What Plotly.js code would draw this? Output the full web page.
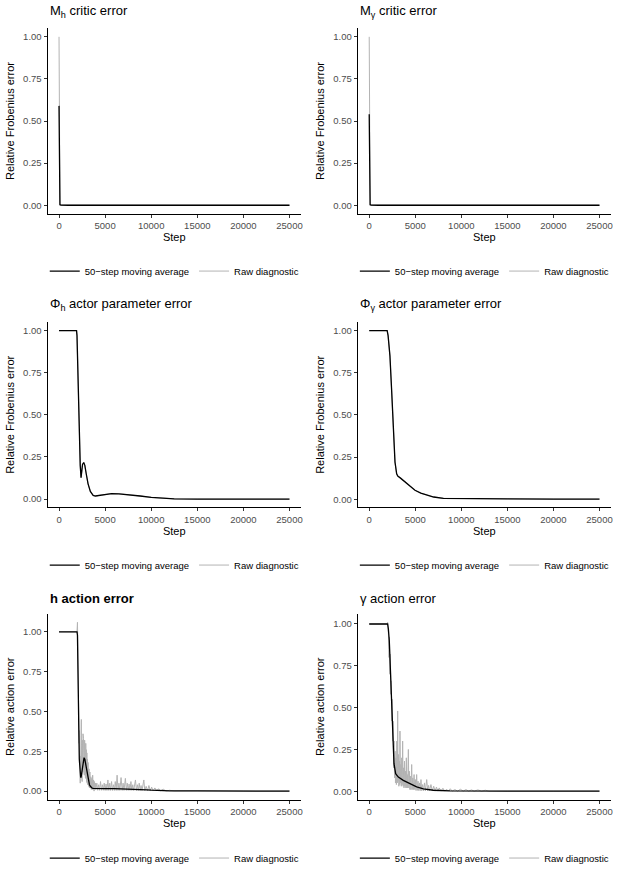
<!DOCTYPE html>
<html><head><meta charset="utf-8">
<script src="https://cdn.plot.ly/plotly-3.0.1.min.js"></script>
<style>html,body{margin:0;padding:0;background:#fff}#chart{width:620px;height:873px}</style>
</head><body><div id="chart"></div>
<script>
// ---------- Data ----------
const stepTicks = [0, 5000, 10000, 15000, 20000, 25000];
const errTicks = [0, 0.25, 0.5, 0.75, 1];
const seriesNames = ["50\u2212step moving average", "Raw diagnostic"];

// M_h critic error
const mhSteps = [0, 25, 50, 75, 100, 150, 200, 1000, 25000];
const mhRaw   = [1.00, 0.004, 0.003, 0.002, 0.002, 0.001, 0.001, 0.000, 0.000];
const mhAvg   = [0.59, 0.30, 0.02, 0.006, 0.003, 0.002, 0.001, 0.000, 0.000];

// M_gamma critic error
const mgSteps = [0, 25, 50, 75, 100, 150, 200, 1000, 25000];
const mgRaw   = [1.00, 0.004, 0.003, 0.002, 0.002, 0.001, 0.001, 0.000, 0.000];
const mgAvg   = [0.54, 0.28, 0.02, 0.006, 0.003, 0.002, 0.001, 0.000, 0.000];

// Phi_h actor parameter error
const phSteps = [0, 1900, 1950, 2000, 2100, 2200, 2300, 2390, 2450, 2550, 2680, 2800, 2950, 3150, 3400, 3700, 3950, 4300, 4800, 5700, 6500, 7500, 8800, 10000, 11300, 12500, 15000, 20000, 25000];
const phAvg   = [1.00, 1.00, 0.97, 0.85, 0.60, 0.38, 0.20, 0.127, 0.16, 0.205, 0.217, 0.20, 0.15, 0.09, 0.045, 0.022, 0.018, 0.021, 0.027, 0.032, 0.031, 0.027, 0.018, 0.010, 0.003, 0.001, 0.000, 0.000, 0.000];
const phRaw   = [1.00, 1.00, 0.97, 0.85, 0.60, 0.38, 0.20, 0.127, 0.16, 0.205, 0.217, 0.20, 0.15, 0.09, 0.045, 0.022, 0.018, 0.021, 0.027, 0.032, 0.031, 0.027, 0.018, 0.010, 0.003, 0.001, 0.000, 0.000, 0.000];

// Phi_gamma actor parameter error
const pgSteps = [0, 1950, 2050, 2150, 2250, 2430, 2610, 2800, 2980, 3100, 3400, 3700, 4200, 4970, 5600, 6240, 7000, 8060, 9000, 10000, 12000, 15000, 20000, 25000];
const pgAvg   = [1.00, 1.00, 0.97, 0.91, 0.85, 0.65, 0.42, 0.22, 0.15, 0.137, 0.125, 0.112, 0.085, 0.053, 0.036, 0.024, 0.013, 0.005, 0.004, 0.004, 0.003, 0.002, 0.001, 0.001];
const pgRaw   = [1.00, 1.00, 0.97, 0.91, 0.85, 0.65, 0.42, 0.22, 0.15, 0.137, 0.125, 0.112, 0.085, 0.053, 0.036, 0.024, 0.013, 0.005, 0.004, 0.004, 0.003, 0.002, 0.001, 0.001];

// h action error
const haAvgSteps = [0, 1900, 1950, 2000, 2050, 2100, 2150, 2200, 2250, 2300, 2350, 2400, 2500, 2600, 2715, 2800, 2900, 3000, 3100, 3200, 3300, 3400, 3500, 3600, 3730, 4000, 5000, 6000, 7000, 8000, 9000, 9500, 10000, 10500, 11000, 12000, 15000, 20000, 25000];
const haAvg      = [1.00, 1.00, 1.00, 0.98, 0.85, 0.55, 0.38, 0.20, 0.14, 0.10, 0.085, 0.09, 0.14, 0.19, 0.21, 0.20, 0.17, 0.13, 0.09, 0.06, 0.04, 0.03, 0.02, 0.018, 0.017, 0.016, 0.015, 0.015, 0.014, 0.012, 0.010, 0.008, 0.006, 0.004, 0.003, 0.001, 0.001, 0.000, 0.000];
const haRawSteps = [0, 1950, 2000, 2030, 2060, 2090, 2120, 2150, 2180, 2210, 2240, 2270, 2300, 2330, 2360, 2390, 2420, 2450, 2480, 2510, 2540, 2570, 2600, 2630, 2660, 2690, 2720, 2750, 2780, 2810, 2840, 2870, 2900, 2930, 2960, 2990, 3020, 3050, 3080, 3110, 3150, 3200, 3250, 3300, 3350, 3400, 3450, 3500, 3550, 3600, 3650, 3700, 3750, 3800, 3850, 3900, 3950,
  4000, 4100, 4200, 4300, 4400, 4500, 4600, 4700, 4800, 4900, 5000, 5100, 5200, 5300, 5400, 5500, 5600, 5700, 5800, 5900, 6000, 6100, 6200, 6300, 6400, 6500, 6600, 6730, 6850, 6950, 7050, 7200, 7300, 7400, 7500, 7600, 7700, 7800, 7900, 8000, 8100, 8290, 8400, 8500, 8600, 8700, 8800, 8900, 9000, 9200, 9300, 9450, 9600, 9750, 9900, 10050, 10200, 10400, 10600, 10800, 11000, 11300, 11600, 12000, 12500, 14000, 15000, 20000, 25000];
const haRaw      = [1.00, 1.00, 1.06, 0.95, 0.70, 0.55, 0.40, 0.52, 0.30, 0.38, 0.12, 0.30, 0.05, 0.22, 0.08, 0.35, 0.45, 0.10, 0.28, 0.06, 0.32, 0.12, 0.36, 0.15, 0.33, 0.12, 0.30, 0.10, 0.32, 0.14, 0.28, 0.08, 0.30, 0.10, 0.26, 0.06, 0.24, 0.05, 0.20, 0.04, 0.18, 0.03, 0.14, 0.02, 0.12, 0.02, 0.09, 0.01, 0.08, 0.01, 0.10, 0.01, 0.07, 0.00, 0.06, 0.01, 0.05,
  0.010, 0.050, 0.005, 0.040, 0.005, 0.060, 0.005, 0.040, 0.005, 0.050, 0.004, 0.045, 0.004, 0.070, 0.004, 0.050, 0.004, 0.060, 0.004, 0.040, 0.004, 0.060, 0.004, 0.100, 0.004, 0.050, 0.004, 0.085, 0.004, 0.050, 0.004, 0.080, 0.004, 0.050, 0.004, 0.045, 0.004, 0.060, 0.004, 0.040, 0.003, 0.070, 0.003, 0.040, 0.003, 0.050, 0.003, 0.035, 0.003, 0.070, 0.003, 0.030, 0.002, 0.035, 0.002, 0.025, 0.002, 0.020, 0.001, 0.015, 0.001, 0.012, 0.001, 0.005, 0.001, 0.002, 0.001, 0.001, 0.001];

// gamma action error
const gaAvgSteps = [0, 1950, 2000, 2080, 2180, 2320, 2430, 2540, 2690, 2870, 3160, 3700, 4430, 5150, 5880, 6970, 8780, 10000, 15000, 20000, 25000];
const gaAvg      = [1.00, 1.00, 1.00, 0.97, 0.90, 0.70, 0.50, 0.30, 0.165, 0.105, 0.085, 0.065, 0.046, 0.026, 0.014, 0.006, 0.002, 0.001, 0.001, 0.001, 0.001];
const gaRawSteps = [0, 1950, 2000, 2050, 2100, 2150, 2200, 2250, 2300, 2350, 2400, 2450, 2500, 2550, 2600, 2650, 2700, 2750, 2800, 2850, 2900, 2950, 3000, 3050, 3090, 3130, 3180, 3220, 3270, 3310, 3340, 3380, 3430, 3480, 3530, 3580, 3630, 3680, 3730, 3780, 3830, 3880, 3930, 3980, 4030, 4080, 4130, 4180, 4250, 4300, 4360, 4420, 4480, 4540, 4610, 4670, 4730, 4800, 4870, 4940, 5010, 5080, 5150, 5220, 5300, 5380, 5460, 5540, 5620, 5700, 5800, 5900, 6000, 6100, 6240, 6350, 6450, 6550, 6700, 6850, 7000, 7150, 7300, 7450, 7600, 7800, 8000, 8200, 8400, 8600, 8800, 9000, 9300, 9600, 9900, 10200, 10500, 10800, 11100, 11400, 11800, 12200, 12600, 13000, 14000, 15000, 20000, 25000];
const gaRaw      = [1.00, 1.00, 1.01, 0.97, 0.93, 0.80, 0.92, 0.70, 0.82, 0.58, 0.66, 0.42, 0.55, 0.30, 0.42, 0.14, 0.30, 0.08, 0.24, 0.05, 0.20, 0.04, 0.30, 0.05, 0.48, 0.06, 0.22, 0.03, 0.18, 0.04, 0.36, 0.05, 0.16, 0.03, 0.20, 0.04, 0.30, 0.03, 0.14, 0.02, 0.18, 0.03, 0.12, 0.02, 0.20, 0.02, 0.10, 0.02, 0.25, 0.02, 0.12, 0.01, 0.09, 0.01, 0.16, 0.01, 0.08, 0.01, 0.10, 0.01, 0.07, 0.005, 0.10, 0.005, 0.06, 0.004, 0.05, 0.004, 0.07, 0.003, 0.04, 0.003, 0.05, 0.002, 0.07, 0.002, 0.035, 0.002, 0.04, 0.002, 0.03, 0.001, 0.025, 0.001, 0.02, 0.001, 0.018, 0.001, 0.012, 0.001, 0.015, 0.001, 0.01, 0.001, 0.012, 0.001, 0.01, 0.001, 0.008, 0.001, 0.008, 0.001, 0.006, 0.001, 0.003, 0.001, 0.001, 0.001];

// ---------- Panel layout ----------
const panels = [
  {title: "M<sub>h</sub> critic error", ytitle: "Relative Frobenius error", rawX: mhSteps, raw: mhRaw, avgX: mhSteps, avg: mhAvg},
  {title: "M<sub>\u03b3</sub> critic error", ytitle: "Relative Frobenius error", rawX: mgSteps, raw: mgRaw, avgX: mgSteps, avg: mgAvg},
  {title: "\u03a6<sub>h</sub> actor parameter error", ytitle: "Relative Frobenius error", rawX: phSteps, raw: phRaw, avgX: phSteps, avg: phAvg},
  {title: "\u03a6<sub>\u03b3</sub> actor parameter error", ytitle: "Relative Frobenius error", rawX: pgSteps, raw: pgRaw, avgX: pgSteps, avg: pgAvg},
  {title: "<b>h action error</b>", ytitle: "Relative action error", rawX: haRawSteps, raw: haRaw, avgX: haAvgSteps, avg: haAvg},
  {title: "\u03b3 action error", ytitle: "Relative action error", rawX: gaRawSteps, raw: gaRaw, avgX: gaAvgSteps, avg: gaAvg}
];

const W = 620, H = 873;
const colX = [[47.5, 301], [357.7, 611]];
const rowY = [[28.5, 214.4], [323.3, 509.2], [616, 802.3]];
const titleY = [12, 306, 600.5];
const legendY = [272, 567, 861];

const FONT = "Liberation Sans, Arial, Helvetica, sans-serif";
const data = [];
const layout = {
  width: W, height: H,
  margin: {l: 0, r: 0, t: 0, b: 0},
  paper_bgcolor: "#fff", plot_bgcolor: "#fff",
  font: {family: FONT, color: "#000"},
  annotations: [],
  showlegend: true
};

panels.forEach((p, i) => {
  const col = i % 2, row = Math.floor(i / 2);
  const n = i + 1;
  const xa = n === 1 ? "x" : "x" + n;
  const ya = n === 1 ? "y" : "y" + n;
  const lg = n === 1 ? "legend" : "legend" + n;
  const xDom = [colX[col][0] / W, colX[col][1] / W];
  const yDom = [1 - rowY[row][1] / H, 1 - rowY[row][0] / H];
  const ymax = Math.max(...p.raw, ...p.avg);
  const ymin = Math.min(...p.raw, ...p.avg);
  const span = ymax - ymin;

  data.push({x: p.rawX, y: p.raw, xaxis: xa, yaxis: ya, type: "scatter", mode: "lines",
    name: seriesNames[1], legend: lg, legendrank: 2,
    line: {color: "#b3b3b3", width: 1}, hoverinfo: "skip"});
  data.push({x: p.avgX, y: p.avg, xaxis: xa, yaxis: ya, type: "scatter", mode: "lines",
    name: seriesNames[0], legend: lg, legendrank: 1,
    line: {color: "#000", width: 1.3}, hoverinfo: "skip"});

  const axCommon = {
    showline: true, linecolor: "#000", linewidth: 1, mirror: false,
    showgrid: false, zeroline: false, ticks: "outside", ticklen: 3, tickwidth: 1, tickcolor: "#333",
    tickfont: {family: FONT, size: 9.5, color: "#4d4d4d"}
  };
  layout[xa.replace("x", "xaxis")] = Object.assign({}, axCommon, {
    domain: xDom, anchor: ya, range: [-1250, 26250], tickvals: stepTicks,
    ticktext: stepTicks.map(String),
    title: {text: "Step", font: {family: FONT, size: 11, color: "#000"}, standoff: 2}
  });
  layout[ya.replace("y", "yaxis")] = Object.assign({}, axCommon, {
    domain: yDom, anchor: xa, range: [ymin - 0.05 * span, ymax + 0.05 * span], tickvals: errTicks,
    tickformat: ".2f",
    title: {text: p.ytitle, font: {family: FONT, size: 11, color: "#000"}, standoff: 6}
  });
  layout[lg] = {
    orientation: "h", x: (colX[col][0] + colX[col][1]) / 2 / W, xanchor: "center",
    y: 1 - legendY[row] / H, yanchor: "middle",
    font: {family: FONT, size: 9.5, color: "#000"}, bgcolor: "rgba(0,0,0,0)",
    itemwidth: 30, traceorder: "normal"
  };
  layout.annotations.push({
    text: p.title, xref: "paper", yref: "paper", x: colX[col][0] / W, y: 1 - titleY[row] / H,
    xanchor: "left", yanchor: "middle", showarrow: false,
    font: {family: FONT, size: 13, color: "#000"}
  });
});

Plotly.newPlot("chart", data, layout, {staticPlot: true, displayModeBar: false});
</script>
</body></html>
